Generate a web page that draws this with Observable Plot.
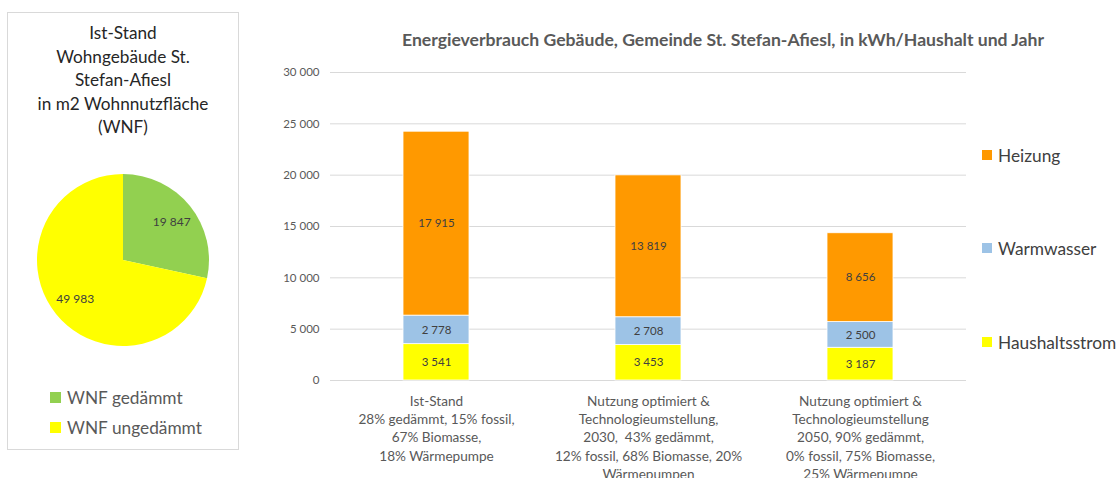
<!DOCTYPE html>
<html>
<head>
<meta charset="utf-8">
<script src="https://cdn.jsdelivr.net/npm/d3@7"></script>
<script src="https://cdn.jsdelivr.net/npm/@observablehq/plot@0.6"></script>
<style>
  html, body { margin: 0; padding: 0; background: #fff; }
  body { width: 1118px; height: 478px; position: relative; overflow: hidden; font-family: Lato, "Open Sans", sans-serif; }
  .abs { position: absolute; }
  #box { left: 7px; top: 12px; width: 232px; height: 438px; border: 1px solid #d9d9d9; box-sizing: border-box; }
  #pieTitle { left: 8px; top: 21px; width: 230px; text-align: center; font-size: 17.2px; line-height: 23.5px; color: #262626; }
  .pleg { left: 50px; font-size: 17.3px; color: #595959; display: flex; align-items: center; height: 24px; }
  .pleg span.sw { display: inline-block; width: 11px; height: 11px; margin-right: 6px; }
  #barTitle { left: 250px; width: 946px; top: 29px; text-align: center; font-size: 17.6px; font-weight: bold; color: #595959; white-space: nowrap; }
  .bleg { left: 982px; font-size: 17.3px; color: #404040; display: flex; align-items: center; height: 22px; }
  .bleg span.sw { display: inline-block; width: 10px; height: 10px; margin-right: 6px; }
</style>
</head>
<body>
<script>
// ---------- data ----------
const pieTitleLines = ["Ist-Stand", "Wohngebäude St.", "Stefan-Afiesl", "in m2 Wohnnutzfläche", "(WNF)"];
const pieCategories = ["WNF gedämmt", "WNF ungedämmt"];
const pieValues = [19847, 49983];
const pieColors = ["#92d050", "#ffff00"];

const barTitle = "Energieverbrauch Gebäude, Gemeinde St. Stefan-Afiesl, in kWh/Haushalt und Jahr";
const scenarios = [
  "Ist-Stand\n28% gedämmt, 15% fossil,\n67% Biomasse,\n18% Wärmepumpe",
  "Nutzung optimiert &\nTechnologieumstellung,\n2030,  43% gedämmt,\n12% fossil, 68% Biomasse, 20%\nWärmepumpen",
  "Nutzung optimiert &\nTechnologieumstellung\n2050, 90% gedämmt,\n0% fossil, 75% Biomasse,\n25% Wärmepumpe"
];
const series = ["Haushaltsstrom", "Warmwasser", "Heizung"];
const haushaltsstrom = [3541, 3453, 3187];
const warmwasser = [2778, 2708, 2500];
const heizung = [17915, 13819, 8656];
const seriesColors = ["#ffff00", "#9dc3e6", "#ff9900"];
const yTicks = [0, 5000, 10000, 15000, 20000, 25000, 30000];
const legendOrder = ["Heizung", "Warmwasser", "Haushaltsstrom"];

// ---------- helpers ----------
const locale = d3.formatLocale({decimal: ",", thousands: "\u00a0", grouping: [3], currency: ["", " €"]});
const fmt = locale.format(",d");

function el(tag, cls, style, html) {
  const e = document.createElement(tag);
  if (cls) e.className = cls;
  Object.assign(e.style, style || {});
  if (html != null) e.innerHTML = html;
  document.body.appendChild(e);
  return e;
}

// ---------- left box: pie ----------
el("div", "abs", {}, null).id = "box";
const pt = el("div", "abs", {});
pt.id = "pieTitle";
pt.innerHTML = pieTitleLines.join("<br>");

const pieData = pieCategories.map((c, i) => ({category: c, value: pieValues[i]}));
const R = 86;
const arcs = d3.pie().sort(null).value(d => d.value)(pieData);
const arcGen = d3.arc().innerRadius(0).outerRadius(R);
const labelArc = d3.arc().innerRadius(R * 0.44).outerRadius(R);
const pieColor = d3.scaleOrdinal(pieCategories, pieColors);

const pie = Plot.plot({
  width: 230, height: 190, margin: 0,
  style: {background: "transparent", fontFamily: "Lato, sans-serif"},
  x: {domain: [-115, 115], range: [0, 230], axis: null},
  y: {domain: [-95, 95], range: [0, 190], axis: null},
  marks: [
    (index, scales) => {
      const g = d3.create("svg:g")
        .attr("transform", `translate(${scales.x(0)},${scales.y(0)})`);
      g.selectAll("path").data(arcs).join("path")
        .attr("d", arcGen)
        .attr("fill", d => pieColor(d.data.category));
      return g.node();
    },
    Plot.text(arcs, {
      x: d => labelArc.centroid(d)[0],
      y: d => labelArc.centroid(d)[1],
      text: d => fmt(d.data.value),
      fill: "#404040", fontSize: 12
    })
  ]
});
const pieWrap = el("div", "abs", {left: "8px", top: "165px"});
pieWrap.appendChild(pie);

pieCategories.forEach((c, i) => {
  el("div", "abs pleg", {top: (385 + i * 30) + "px"},
    `<span class="sw" style="background:${pieColors[i]}"></span>${c}`);
});

// ---------- right: stacked bars ----------
const bt = el("div", "abs", {}, barTitle);
bt.id = "barTitle";

const barData = [];
scenarios.forEach((s, i) => {
  barData.push({scenario: s, series: "Haushaltsstrom", value: haushaltsstrom[i]});
  barData.push({scenario: s, series: "Warmwasser", value: warmwasser[i]});
  barData.push({scenario: s, series: "Heizung", value: heizung[i]});
});

const bars = Plot.plot({
  width: 868, height: 423,
  marginLeft: 80, marginRight: 152, marginTop: 17, marginBottom: 98,
  style: {background: "transparent", fontFamily: "Lato, sans-serif", color: "#595959", overflow: "visible"},
  x: {domain: scenarios, paddingInner: 0.69, paddingOuter: 0.345, label: null},
  y: {domain: [0, 30000], label: null},
  color: {domain: series, range: seriesColors},
  marks: [
    Plot.ruleY(yTicks, {stroke: "#d9d9d9", strokeWidth: 1}),
    Plot.barY(barData, {x: "scenario", y: "value", fill: "series", order: series, stroke: "white", strokeWidth: 0.8}),
    Plot.text(barData, Plot.stackY({
      x: "scenario", y: "value", z: "series", order: series,
      text: d => fmt(d.value), fill: "#404040", fontSize: 11.5
    })),
    Plot.axisY({ticks: yTicks, tickFormat: fmt, tickSize: 0, tickPadding: 11, fontSize: 11.5}),
    Plot.axisX({tickSize: 0, tickPadding: 12, fontSize: 13.6, lineHeight: 1.35})
  ]
});
const barWrap = el("div", "abs", {left: "250px", top: "55px"});
barWrap.appendChild(bars);

const legendY = {"Heizung": 155, "Warmwasser": 248, "Haushaltsstrom": 342};
legendOrder.forEach(s => {
  el("div", "abs bleg", {top: (legendY[s] - 11) + "px"},
    `<span class="sw" style="background:${seriesColors[series.indexOf(s)]}"></span>${s}`);
});
</script>
</body>
</html>
